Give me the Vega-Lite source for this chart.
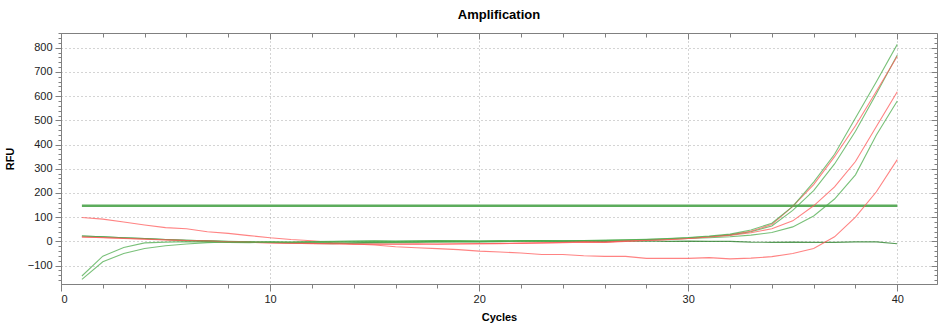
{
  "$schema": "https://vega.github.io/schema/vega-lite/v6.json",
  "width": 876,
  "height": 251,
  "autosize": {"type": "none"},
  "padding": {"left": 61, "top": 33, "right": 5, "bottom": 45},
  "background": "white",
  "title": {"text": "Amplification", "font": "Liberation Sans", "fontSize": 13, "fontWeight": "bold", "color": "#000", "anchor": "middle", "offset": 5},
  "config": {
    "view": {"stroke": "#808080", "strokeWidth": 1},
    "axis": {"labelFont": "Liberation Sans", "labelFontSize": 11, "labelColor": "#222", "titleFont": "Liberation Sans", "titleFontSize": 11, "titleFontWeight": "bold", "titleColor": "#000", "domainColor": "#808080", "tickColor": "#808080", "labelOverlap": false}
  },
  "datasets": {
    "threshold": [{"cycle": 1, "rfu": 147}, {"cycle": 40, "rfu": 147}],
    "curves": [
      {"cycle":1,"G1":-143,"G2":-157,"G3":22,"R1":18,"R2":18,"R3":99,"NTC":22},
      {"cycle":2,"G1":-61,"G2":-84,"G3":19,"R1":16,"R2":15,"R3":92,"NTC":19},
      {"cycle":3,"G1":-25,"G2":-50,"G3":15,"R1":13,"R2":12,"R3":80,"NTC":15},
      {"cycle":4,"G1":-6,"G2":-29,"G3":12,"R1":10,"R2":9,"R3":68,"NTC":12},
      {"cycle":5,"G1":-3,"G2":-18,"G3":8,"R1":7,"R2":6,"R3":57,"NTC":8},
      {"cycle":6,"G1":-1,"G2":-11,"G3":5,"R1":4,"R2":3,"R3":52,"NTC":5},
      {"cycle":7,"G1":-2,"G2":-5,"G3":2,"R1":1,"R2":1,"R3":40,"NTC":2},
      {"cycle":8,"G1":-4,"G2":-2,"G3":0,"R1":-2,"R2":-2,"R3":33,"NTC":-1},
      {"cycle":9,"G1":-5,"G2":-1,"G3":-2,"R1":-4,"R2":-4,"R3":24,"NTC":-3},
      {"cycle":10,"G1":-4,"G2":-2,"G3":-3,"R1":-5,"R2":-6,"R3":15,"NTC":-4},
      {"cycle":11,"G1":-3,"G2":-3,"G3":-5,"R1":-7,"R2":-7,"R3":8,"NTC":-6},
      {"cycle":12,"G1":-1,"G2":-2,"G3":-4,"R1":-8,"R2":-9,"R3":3,"NTC":-8},
      {"cycle":13,"G1":0,"G2":-1,"G3":-6,"R1":-10,"R2":-10,"R3":-5,"NTC":-9},
      {"cycle":14,"G1":1,"G2":0,"G3":-7,"R1":-11,"R2":-12,"R3":-11,"NTC":-6},
      {"cycle":15,"G1":2,"G2":1,"G3":-6,"R1":-11,"R2":-12,"R3":-15,"NTC":-4},
      {"cycle":16,"G1":1,"G2":0,"G3":-5,"R1":-12,"R2":-11,"R3":-22,"NTC":-3},
      {"cycle":17,"G1":2,"G2":1,"G3":-4,"R1":-12,"R2":-10,"R3":-26,"NTC":-2},
      {"cycle":18,"G1":3,"G2":2,"G3":-3,"R1":-11,"R2":-12,"R3":-30,"NTC":0},
      {"cycle":19,"G1":3,"G2":1,"G3":-2,"R1":-10,"R2":-11,"R3":-34,"NTC":-1},
      {"cycle":20,"G1":2,"G2":0,"G3":-2,"R1":-9,"R2":-10,"R3":-40,"NTC":-1},
      {"cycle":21,"G1":3,"G2":1,"G3":-1,"R1":-9,"R2":-8,"R3":-44,"NTC":0},
      {"cycle":22,"G1":2,"G2":2,"G3":0,"R1":-8,"R2":-7,"R3":-48,"NTC":2},
      {"cycle":23,"G1":2,"G2":3,"G3":1,"R1":-6,"R2":-6,"R3":-54,"NTC":2},
      {"cycle":24,"G1":3,"G2":2,"G3":0,"R1":-4,"R2":-5,"R3":-54,"NTC":0},
      {"cycle":25,"G1":4,"G2":3,"G3":2,"R1":-2,"R2":-3,"R3":-59,"NTC":0},
      {"cycle":26,"G1":6,"G2":4,"G3":3,"R1":-3,"R2":-4,"R3":-62,"NTC":-1},
      {"cycle":27,"G1":7,"G2":6,"G3":5,"R1":2,"R2":0,"R3":-62,"NTC":1},
      {"cycle":28,"G1":9,"G2":7,"G3":8,"R1":5,"R2":4,"R3":-70,"NTC":2},
      {"cycle":29,"G1":12,"G2":9,"G3":11,"R1":8,"R2":7,"R3":-70,"NTC":0},
      {"cycle":30,"G1":16,"G2":12,"G3":15,"R1":12,"R2":12,"R3":-70,"NTC":1},
      {"cycle":31,"G1":22,"G2":15,"G3":20,"R1":18,"R2":19,"R3":-67,"NTC":0},
      {"cycle":32,"G1":30,"G2":19,"G3":27,"R1":27,"R2":25,"R3":-72,"NTC":0},
      {"cycle":33,"G1":47,"G2":26,"G3":40,"R1":42,"R2":36,"R3":-69,"NTC":-3},
      {"cycle":34,"G1":75,"G2":37,"G3":64,"R1":70,"R2":52,"R3":-63,"NTC":-4},
      {"cycle":35,"G1":145,"G2":60,"G3":128,"R1":145,"R2":85,"R3":-50,"NTC":-3},
      {"cycle":36,"G1":245,"G2":105,"G3":210,"R1":235,"R2":147,"R3":-29,"NTC":-4},
      {"cycle":37,"G1":360,"G2":175,"G3":320,"R1":350,"R2":225,"R3":19,"NTC":-4},
      {"cycle":38,"G1":510,"G2":275,"G3":455,"R1":478,"R2":330,"R3":100,"NTC":-2},
      {"cycle":39,"G1":660,"G2":440,"G3":610,"R1":620,"R2":475,"R3":205,"NTC":-2},
      {"cycle":40,"G1":814,"G2":580,"G3":770,"R1":765,"R2":618,"R3":338,"NTC":-10}
    ]
  },
  "layer": [
    {
      "data": {"name": "threshold"},
      "mark": {"type": "line", "color": "#5cac5c", "strokeWidth": 2.6},
      "encoding": {
        "x": {"field": "cycle", "type": "quantitative", "scale": {"domain": [0, 41.9], "nice": false, "zero": false},
          "axis": {"orient": "top", "title": null, "labels": false, "grid": false, "domain": false,
            "values": [0,2,4,6,8,10,12,14,16,18,20,22,24,26,28,30,32,34,36,38,40],
            "tickSize": {"condition": {"test": "datum.value % 10 === 0", "value": -6}, "value": -4}}},
        "y": {"field": "rfu", "type": "quantitative", "scale": {"domain": [-176, 861], "nice": false, "zero": false},
          "axis": {"orient": "right", "title": null, "labels": false, "grid": false, "domain": false,
            "values": [-160,-140,-120,-100,-80,-60,-40,-20,0,20,40,60,80,100,120,140,160,180,200,220,240,260,280,300,320,340,360,380,400,420,440,460,480,500,520,540,560,580,600,620,640,660,680,700,720,740,760,780,800,820,840,860],
            "tickSize": {"condition": {"test": "datum.value % 100 === 0", "value": -6}, "value": -3}}}
      }
    },
    {
      "data": {"name": "curves"},
      "transform": [{"fold": ["NTC", "R3", "G2", "R2", "G3", "R1", "G1"], "as": ["well", "rfu"]}],
      "mark": {"type": "line", "strokeWidth": 1.1, "opacity": 0.75},
      "encoding": {
        "x": {"field": "cycle", "type": "quantitative", "scale": {"domain": [0, 41.9], "nice": false, "zero": false},
          "axis": {"orient": "bottom", "title": "Cycles", "titlePadding": 7,
            "values": [0,2,4,6,8,10,12,14,16,18,20,22,24,26,28,30,32,34,36,38,40],
            "labelExpr": "datum.value % 10 === 0 ? datum.label : ''",
            "tickSize": {"condition": {"test": "datum.value % 10 === 0", "value": 7}, "value": 4},
            "labelPadding": 2,
            "grid": true, "gridDash": [1, 3], "gridColor": "#a8a8a8",
            "gridOpacity": {"condition": {"test": "datum.value % 10 === 0 && datum.value > 0", "value": 1}, "value": 0}}},
        "y": {"field": "rfu", "type": "quantitative", "scale": {"domain": [-176, 861], "nice": false, "zero": false},
          "axis": {"orient": "left", "title": "RFU", "titlePadding": 12,
            "values": [-160,-140,-120,-100,-80,-60,-40,-20,0,20,40,60,80,100,120,140,160,180,200,220,240,260,280,300,320,340,360,380,400,420,440,460,480,500,520,540,560,580,600,620,640,660,680,700,720,740,760,780,800,820,840,860],
            "labelExpr": "datum.value % 100 === 0 ? datum.label : ''",
            "tickSize": {"condition": {"test": "datum.value % 100 === 0", "value": 6}, "value": 3},
            "labelPadding": 3,
            "grid": true, "gridDash": [1, 3], "gridColor": "#a8a8a8",
            "gridOpacity": {"condition": {"test": "datum.value % 100 === 0", "value": 1}, "value": 0}}},
        "color": {"field": "well", "type": "nominal", "legend": null,
          "scale": {"domain": ["NTC", "R3", "G2", "R2", "G3", "R1", "G1"], "range": ["#1f7a1f", "#ff5a5a", "#4cab4c", "#ff5a5a", "#4cab4c", "#ff5a5a", "#4cab4c"]}},
        "detail": {"field": "well"}
      }
    }
  ],
  "resolve": {"axis": {"x": "independent", "y": "independent"}}
}
